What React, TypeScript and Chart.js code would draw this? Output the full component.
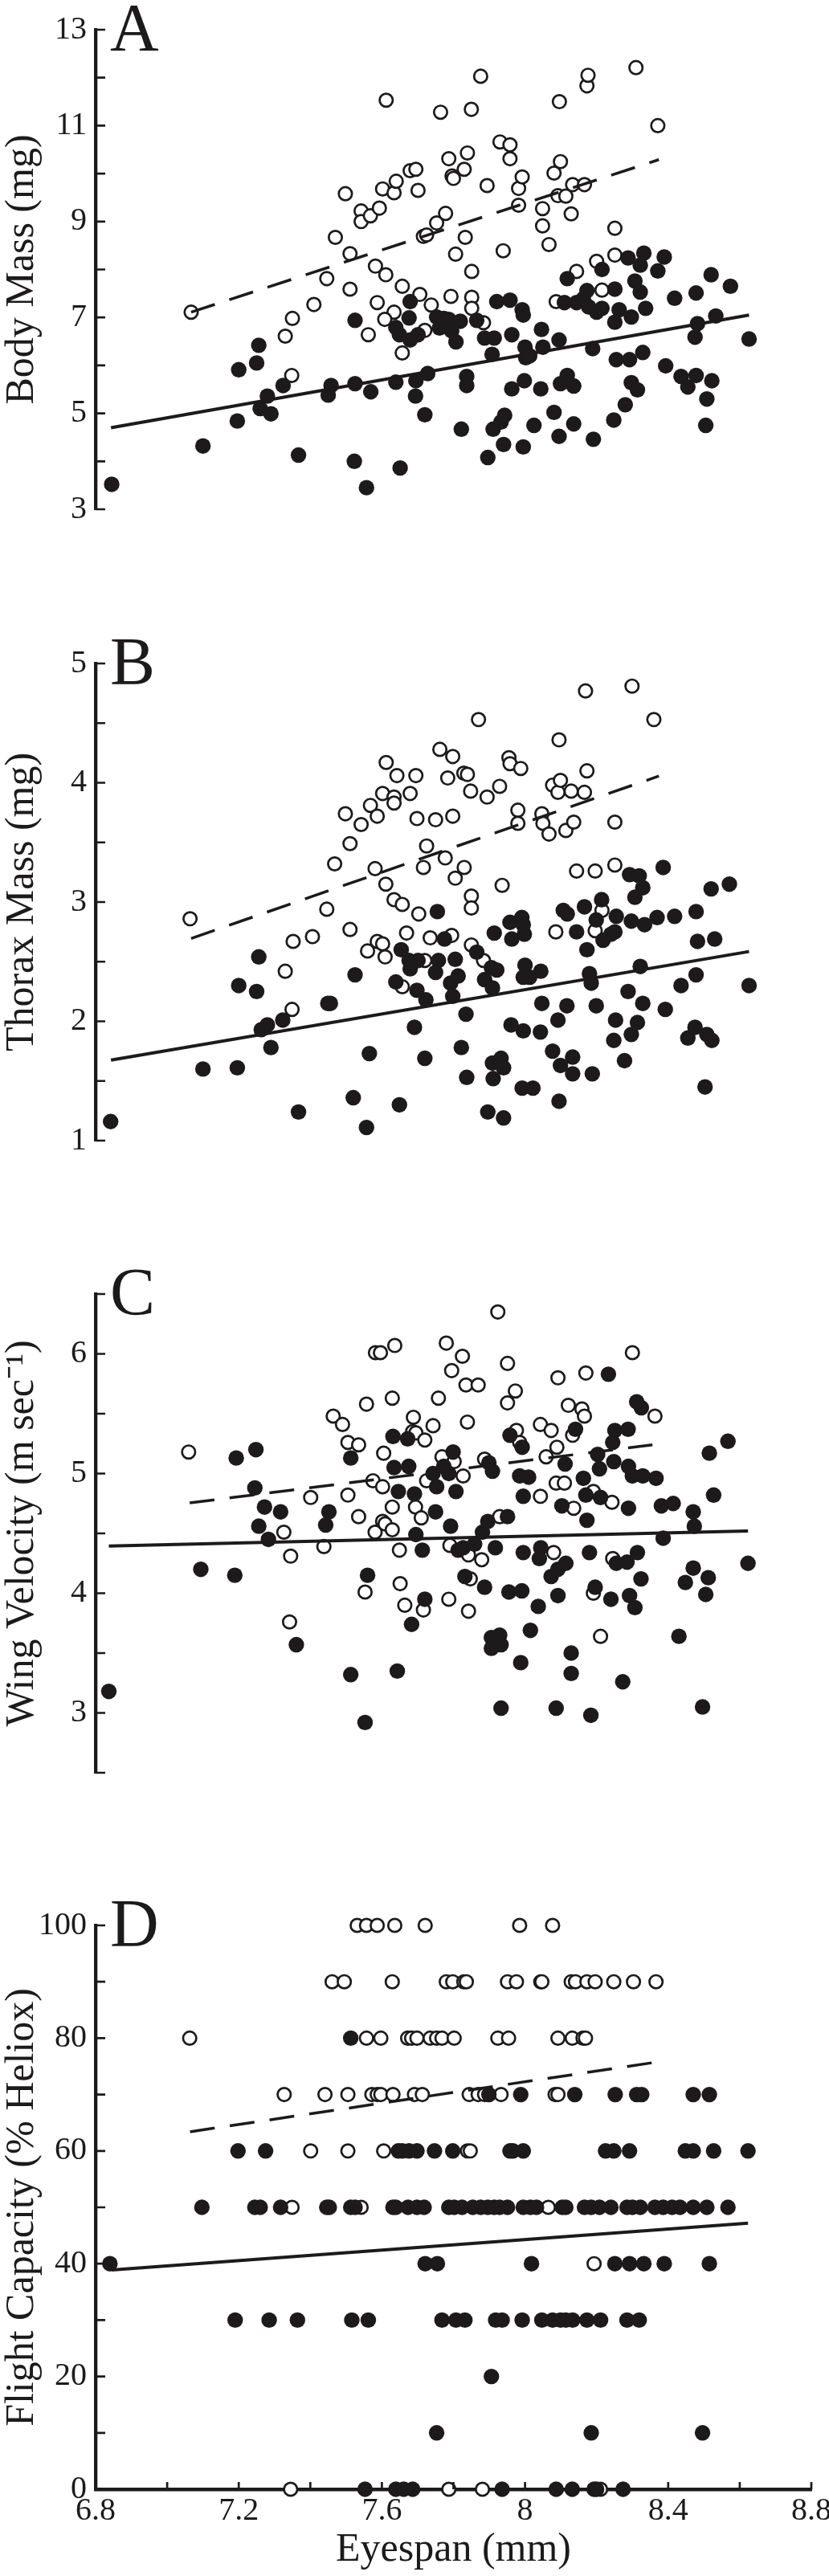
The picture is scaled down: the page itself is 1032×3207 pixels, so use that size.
import React, { useEffect, useRef } from 'react';
import { Chart, registerables } from 'chart.js';

Chart.register(...registerables);

const FONT = "'Liberation Serif', 'Times New Roman', Times, serif";
const INK = '#1c1a1a';

// shared eyespan axis (only drawn under panel D)
const X_TICKS = [6.8, 7, 7.2, 7.4, 7.6, 7.8, 8, 8.2, 8.4, 8.6, 8.8];
const X_LABELS = [6.8, 7.2, 7.6, 8, 8.4, 8.8];

// ---- A: body mass ----
const A_Y_TICKS = [3, 4, 5, 6, 7, 8, 9, 10, 11, 12, 13];
const A_Y_LABELS = [3, 5, 7, 9, 11, 13];
const A_OPEN_X = [
  7.067, 7.33, 7.35, 7.348, 7.41, 7.446, 7.47, 7.498, 7.511, 7.511,
  7.542, 7.542, 7.568, 7.582, 7.593, 7.587, 7.562, 7.602, 7.612, 7.611,
  7.634, 7.64, 7.634, 7.608, 7.657, 7.657, 7.679, 7.695, 7.701, 7.706,
  7.716, 7.725, 7.72, 7.738, 7.753, 7.764, 7.778, 7.787, 7.796, 7.8,
  7.793, 7.806, 7.83, 7.833, 7.839, 7.85, 7.851, 7.851, 7.851, 7.876,
  7.884, 7.894, 7.93, 7.939, 7.958, 7.958, 7.982, 7.992, 7.982, 8.049,
  8.049, 8.067, 8.081, 8.087, 8.092, 8.096, 8.099, 8.114, 8.129, 8.133,
  8.144, 8.166, 8.173, 8.176, 8.2, 8.215, 8.251, 8.251, 8.31, 8.371,
];
const A_OPEN_Y = [
  7.11, 6.61, 6.98, 5.79, 7.27, 7.81, 8.67, 9.58, 8.33, 7.59,
  9.22, 9.0, 9.12, 8.07, 9.28, 7.31, 6.64, 9.68, 11.53, 7.89,
  9.6, 9.84, 7.11, 6.96, 7.65, 6.26, 10.06, 10.09, 9.65, 7.48,
  8.69, 8.72, 6.73, 7.26, 8.97, 11.28, 9.17, 10.31, 9.95, 9.9,
  7.44, 8.32, 10.09, 8.67, 10.43, 11.34, 7.96, 7.42, 7.19, 12.03,
  6.89, 9.75, 10.66, 8.39, 10.6, 10.31, 9.69, 9.93, 9.34, 9.27,
  8.91, 8.52, 10.01, 7.33, 9.54, 11.5, 10.25, 9.53, 9.16, 9.77,
  7.96, 9.77, 11.83, 12.05, 8.17, 7.57, 8.86, 8.3, 12.21, 11.0,
];
const A_FILLED_X = [
  6.845, 7.1, 7.196, 7.2, 7.25, 7.256, 7.26, 7.28, 7.29, 7.324,
  7.367, 7.45, 7.458, 7.523, 7.525, 7.525, 7.569, 7.557, 7.639, 7.651,
  7.639, 7.649, 7.676, 7.679, 7.679, 7.694, 7.695, 7.701, 7.72, 7.728,
  7.753, 7.761, 7.773, 7.787, 7.795, 7.807, 7.819, 7.822, 7.837, 7.837,
  7.865, 7.887, 7.896, 7.908, 7.911, 7.921, 7.914, 7.933, 7.94, 7.943,
  7.958, 7.963, 7.963, 7.992, 7.995, 7.995, 7.998, 8.0, 8.002, 8.013,
  8.025, 8.046, 8.044, 8.05, 8.081, 8.095, 8.095, 8.099, 8.11, 8.118,
  8.118, 8.136, 8.136, 8.144, 8.163, 8.173, 8.178, 8.189, 8.191, 8.2,
  8.215, 8.215, 8.248, 8.251, 8.251, 8.255, 8.263, 8.28, 8.288, 8.292,
  8.297, 8.297, 8.307, 8.314, 8.322, 8.322, 8.329, 8.332, 8.337, 8.371,
  8.389, 8.393, 8.418, 8.436, 8.455, 8.475, 8.478, 8.482, 8.478, 8.505,
  8.508, 8.52, 8.522, 8.533, 8.574, 8.626,
];
const A_FILLED_Y = [
  3.52, 4.32, 4.84, 5.91, 6.05, 6.42, 5.1, 5.36, 4.99, 5.58,
  4.13, 5.38, 5.58, 4.0, 6.94, 5.62, 5.45, 3.45, 5.65, 3.86,
  6.79, 6.64, 6.99, 7.33, 6.53, 5.36, 5.68, 6.64, 4.97, 5.83,
  7.01, 6.78, 6.98, 6.96, 6.72, 6.49, 6.92, 4.67, 5.77, 5.58,
  6.94, 6.57, 4.08, 6.23, 4.67, 7.33, 6.57, 4.82, 4.35, 4.96,
  7.36, 6.64, 5.51, 7.16, 7.05, 4.3, 5.68, 6.38, 6.16, 6.2,
  4.75, 6.75, 5.51, 6.38, 5.02, 6.53, 4.52, 5.62, 7.31, 7.81,
  5.79, 5.57, 4.78, 7.31, 7.39, 7.56, 7.22, 6.35, 4.46, 7.11,
  8.0, 7.19, 4.86, 7.59, 6.9, 6.12, 7.16, 5.18, 8.24, 6.12,
  5.64, 7.01, 7.76, 5.49, 8.09, 7.53, 6.27, 8.34, 7.19, 7.97,
  8.26, 5.99, 7.4, 5.77, 5.55, 6.59, 7.51, 6.87, 5.79, 4.75,
  5.3, 7.89, 5.68, 7.03, 7.65, 6.55,
];
const A_FIT_OPEN_X = [7.067, 8.374];
const A_FIT_OPEN_Y = [7.11, 10.29];
const A_FIT_FILLED_X = [6.843, 8.626];
const A_FIT_FILLED_Y = [4.7, 7.05];

// ---- B: thorax mass ----
const B_Y_TICKS = [1, 1.5, 2, 2.5, 3, 3.5, 4, 4.5, 5];
const B_Y_LABELS = [1, 2, 3, 4, 5];
const B_OPEN_X = [
  7.064, 7.33, 7.349, 7.352, 7.406, 7.446, 7.468, 7.498, 7.511, 7.511,
  7.542, 7.568, 7.56, 7.581, 7.587, 7.587, 7.602, 7.612, 7.602, 7.609,
  7.611, 7.634, 7.634, 7.634, 7.642, 7.657, 7.657, 7.669, 7.679, 7.695,
  7.698, 7.703, 7.716, 7.72, 7.725, 7.735, 7.75, 7.762, 7.777, 7.784,
  7.795, 7.798, 7.798, 7.805, 7.83, 7.829, 7.839, 7.848, 7.85, 7.85,
  7.85, 7.884, 7.894, 7.929, 7.936, 7.955, 7.958, 7.988, 7.98, 7.98,
  8.047, 8.05, 8.067, 8.077, 8.086, 8.095, 8.092, 8.099, 8.114, 8.129,
  8.136, 8.144, 8.166, 8.173, 8.196, 8.196, 8.215, 8.251, 8.251,
  8.169, 8.299, 8.36, 7.87,
];
const B_OPEN_Y = [
  2.86, 2.42, 2.1, 2.67, 2.71, 2.94, 3.32, 3.74, 3.49, 2.77,
  3.65, 3.81, 2.59, 3.28, 3.72, 2.67, 3.91, 4.17, 2.65, 2.54,
  3.15, 3.88, 3.83, 3.02, 4.06, 2.98, 2.29, 2.74, 3.91, 4.06,
  3.7, 2.9, 3.29, 2.51, 3.47, 2.7, 3.69, 4.28, 3.37, 4.04,
  2.72, 4.22, 3.72, 3.2, 3.29, 4.08, 4.07, 3.93, 3.05, 2.95,
  2.64, 2.51, 3.88, 3.97, 3.14, 4.21, 4.16, 4.12, 3.77, 3.66,
  3.74, 3.66, 3.57, 3.98, 2.75, 4.36, 3.92, 4.02, 3.6, 3.93,
  3.67, 3.26, 3.92, 4.1, 3.26, 2.76, 2.93, 3.31, 3.67,
  4.77, 4.81, 4.53, 4.53,
];
const B_FILLED_X = [
  6.842, 7.1, 7.196, 7.2, 7.25, 7.256, 7.263, 7.28, 7.29, 7.323,
  7.367, 7.449, 7.456, 7.52, 7.525, 7.565, 7.557, 7.639, 7.649, 7.654,
  7.676, 7.679, 7.691, 7.698, 7.701, 7.72, 7.723, 7.75, 7.755, 7.758,
  7.775, 7.792, 7.798, 7.805, 7.813, 7.822, 7.835, 7.837, 7.865, 7.887,
  7.896, 7.906, 7.909, 7.909, 7.911, 7.921, 7.914, 7.933, 7.94, 7.94,
  7.958, 7.961, 7.963, 7.991, 7.995, 7.998, 7.995, 8.0, 7.995, 7.992,
  8.013, 8.022, 8.044, 8.043, 8.047, 8.077, 8.092, 8.095, 8.099, 8.107,
  8.118, 8.117, 8.133, 8.133, 8.144, 8.166, 8.173, 8.18, 8.185, 8.188,
  8.199, 8.199, 8.214, 8.218, 8.24, 8.251, 8.248, 8.253, 8.255, 8.278,
  8.288, 8.292, 8.297, 8.297, 8.307, 8.314, 8.319, 8.322, 8.329, 8.329,
  8.334, 8.369, 8.386, 8.392, 8.418, 8.436, 8.455, 8.475, 8.478, 8.478,
  8.482, 8.503, 8.508, 8.52, 8.522, 8.53, 8.571, 8.626,
];
const B_FILLED_Y = [
  1.16, 1.6, 1.61, 2.3, 2.25, 2.54, 1.93, 1.97, 1.78, 2.01,
  1.24, 2.15, 2.15, 1.36, 2.39, 1.73, 1.11, 2.33, 1.3, 2.6,
  2.51, 2.44, 1.95, 2.26, 2.51, 1.69, 2.18, 2.41, 2.92, 2.51,
  2.69, 2.32, 2.21, 2.52, 2.38, 1.78, 2.06, 1.53, 2.58, 2.35,
  1.24, 2.45, 2.28, 1.65, 1.52, 2.43, 2.74, 1.69, 1.61, 1.19,
  2.83, 1.97, 2.69, 2.87, 2.81, 2.73, 1.92, 2.47, 2.37, 1.44,
  2.37, 1.44, 2.42, 1.91, 2.15, 1.75, 2.01, 1.33, 1.63, 2.93,
  2.9, 2.13, 1.7, 1.56, 2.75, 2.96, 2.6, 2.4, 2.32, 1.56,
  2.85, 2.13, 3.02, 2.68, 2.73, 2.75, 1.84, 2.01, 2.88, 1.67,
  2.25, 3.23, 2.84, 1.89, 3.04, 1.99, 3.22, 2.46, 3.12, 2.15,
  2.81, 2.87, 3.29, 2.1, 2.88, 2.3, 1.86, 1.95, 2.92, 2.39,
  2.67, 1.45, 1.89, 3.11, 1.84, 2.69, 3.15, 2.3,
];
const B_FIT_OPEN_X = [7.067, 8.374];
const B_FIT_OPEN_Y = [2.695, 4.056];
const B_FIT_FILLED_X = [6.843, 8.626];
const B_FIT_FILLED_Y = [1.675, 2.585];

// ---- C: wing velocity ----
const C_Y_TICKS = [2.5, 3, 3.5, 4, 4.5, 5, 5.5, 6, 6.5];
const C_Y_LABELS = [3, 4, 5, 6];
const C_OPEN_X = [
  7.06, 7.326, 7.345, 7.342, 7.401, 7.438, 7.464, 7.49, 7.505, 7.505,
  7.535, 7.535, 7.557, 7.553, 7.575, 7.581, 7.582, 7.596, 7.602, 7.605,
  7.602, 7.609, 7.629, 7.629, 7.629, 7.636, 7.649, 7.651, 7.664, 7.688,
  7.686, 7.695, 7.694, 7.71, 7.716, 7.72, 7.725, 7.743, 7.758, 7.768,
  7.78, 7.787, 7.79, 7.795, 7.802, 7.825, 7.827, 7.835, 7.839, 7.842,
  7.847, 7.842, 7.869, 7.879, 7.887, 7.924, 7.929, 7.951, 7.951, 7.973,
  7.976, 7.985, 8.043, 8.043, 8.059, 8.073, 8.08, 8.087, 8.089, 8.092,
  8.11, 8.121, 8.133, 8.136, 8.159, 8.166, 8.17, 8.191, 8.191, 8.211,
  8.243, 8.245, 8.3, 8.363,
];
const C_OPEN_Y = [
  5.18, 4.51, 4.31, 3.76, 4.8, 4.39, 5.48, 5.41, 5.26, 4.82,
  5.24, 4.64, 5.58, 4.01, 4.94, 4.51, 6.01, 6.01, 4.89, 5.17,
  4.6, 4.58, 5.63, 4.53, 4.72, 6.07, 4.36, 4.08, 3.9, 5.47,
  5.35, 5.34, 4.72, 4.63, 3.86, 5.28, 4.94, 5.4, 5.63, 5.14,
  6.09, 3.95, 4.4, 5.86, 5.1, 5.98, 4.98, 5.74, 5.43, 4.32,
  4.12, 3.85, 5.74, 4.28, 5.12, 6.35, 4.64, 5.92, 5.59, 5.69,
  5.36, 5.26, 5.41, 4.81, 5.14, 5.36, 4.34, 4.92, 5.22, 5.8,
  4.92, 5.57, 5.32, 4.71, 5.54, 5.48, 5.84, 4.85, 4.0, 3.64,
  4.76, 4.29, 6.01, 5.48,
];
const C_FILLED_X = [
  6.837, 7.094, 7.189, 7.193, 7.245, 7.248, 7.256, 7.272, 7.283, 7.317,
  7.361, 7.443, 7.452, 7.513, 7.513, 7.553, 7.56, 7.631, 7.634, 7.646,
  7.643, 7.672, 7.675, 7.683, 7.691, 7.695, 7.713, 7.72, 7.743, 7.75,
  7.753, 7.773, 7.787, 7.792, 7.799, 7.807, 7.813, 7.827, 7.832, 7.859,
  7.881, 7.887, 7.896, 7.899, 7.909, 7.906, 7.906, 7.917, 7.929, 7.933,
  7.933, 7.951, 7.955, 7.958, 7.985, 7.992, 7.991, 7.988, 7.995, 7.995,
  8.01, 8.015, 8.037, 8.04, 8.044, 8.073, 8.087, 8.092, 8.092, 8.103,
  8.112, 8.114, 8.129, 8.129, 8.141, 8.163, 8.17, 8.173, 8.18, 8.184,
  8.203, 8.196, 8.208, 8.211, 8.233, 8.24, 8.245, 8.248, 8.251, 8.255,
  8.273, 8.285, 8.288, 8.289, 8.289, 8.292, 8.3, 8.307, 8.312, 8.314,
  8.325, 8.324, 8.329, 8.366, 8.381, 8.386, 8.414, 8.43, 8.448, 8.47,
  8.473, 8.47, 8.496, 8.505, 8.512, 8.515, 8.527, 8.567, 8.623,
];
const C_FILLED_Y = [
  3.18, 4.2, 4.15, 5.13, 4.88, 5.2, 4.56, 4.72, 4.45, 4.68,
  3.57, 4.57, 4.68, 5.13, 3.32, 2.92, 4.15, 5.31, 5.05, 4.85,
  3.35, 5.29, 5.06, 3.74, 4.83, 4.49, 4.36, 3.95, 5.0, 4.68,
  4.89, 5.06, 5.0, 4.56, 5.18, 4.85, 4.36, 4.38, 4.14, 4.41,
  4.51, 4.05, 4.6, 5.09, 5.02, 3.63, 3.54, 4.38, 3.65, 3.57,
  3.04, 4.64, 4.01, 5.32, 4.98, 5.22, 4.02, 3.42, 4.81, 4.34,
  4.97, 3.69, 3.89, 4.29, 4.38, 4.14, 3.04, 3.98, 4.2, 4.73,
  5.08, 4.25, 3.5, 3.33, 5.37, 4.96, 4.82, 4.61, 4.34, 2.98,
  5.16, 4.05, 5.04, 4.8, 5.83, 3.95, 5.26, 5.1, 5.36, 4.25,
  3.26, 4.26, 5.37, 5.06, 4.71, 3.98, 4.98, 3.88, 5.6, 4.34,
  5.55, 4.12, 4.98, 4.96, 4.73, 4.46, 4.75, 3.64, 4.09, 4.68,
  4.56, 4.21, 3.05, 3.99, 4.13, 5.17, 4.82, 5.27, 4.25,
];
const C_FIT_OPEN_X = [7.063, 8.356];
const C_FIT_OPEN_Y = [4.755, 5.24];
const C_FIT_FILLED_X = [6.837, 8.623];
const C_FIT_FILLED_Y = [4.395, 4.52];

// ---- D: flight capacity (scored in steps of 10 %) ----
const D_Y_TICKS = [0, 10, 20, 30, 40, 50, 60, 70, 80, 90, 100];
const D_Y_LABELS = [0, 20, 40, 60, 80, 100];
const D_LEVELS = [100, 90, 80, 70, 60, 50, 40, 30, 20, 10, 0];
const D_OPEN_X_BY_LEVEL = [
  [7.531, 7.557, 7.587, 7.636, 7.721, 7.985, 8.077],
  [7.461, 7.495, 7.629, 7.78, 7.798, 7.829, 7.836, 7.951, 7.976, 8.044, 8.047, 8.129, 8.141, 8.173, 8.196, 8.248, 8.303, 8.366],
  [7.063, 7.557, 7.597, 7.672, 7.683, 7.698, 7.735, 7.753, 7.768, 7.802, 7.924, 7.954, 8.092, 8.132, 8.162, 8.169],
  [7.327, 7.441, 7.505, 7.572, 7.587, 7.597, 7.631, 7.691, 7.713, 7.844, 7.869, 7.887, 7.933, 8.084, 8.092],
  [7.401, 7.505, 7.605, 7.839, 7.847],
  [7.349, 7.542, 8.065],
  [8.193],
  [],
  [],
  [],
  [7.345, 7.787, 7.881, 8.211],
];
const D_FILLED_X_BY_LEVEL = [
  [],
  [],
  [7.513],
  [7.899, 7.988, 8.139, 8.252, 8.312, 8.326, 8.47, 8.515],
  [7.198, 7.275, 7.646, 7.657, 7.676, 7.698, 7.747, 7.798, 7.958, 7.966, 7.995, 8.225, 8.248, 8.292, 8.448, 8.47, 8.527, 8.623],
  [7.097, 7.245, 7.26, 7.317, 7.446, 7.453, 7.513, 7.525, 7.631, 7.639, 7.673, 7.698, 7.718, 7.787, 7.802, 7.824, 7.854, 7.876, 7.896, 7.914, 7.929, 7.951, 7.995, 8.015, 8.032, 8.104, 8.114, 8.166, 8.185, 8.208, 8.24, 8.285, 8.3, 8.322, 8.363, 8.386, 8.411, 8.433, 8.47, 8.508, 8.567],
  [6.84, 7.721, 7.755, 8.018, 8.251, 8.292, 8.332, 8.389, 8.515],
  [7.19, 7.285, 7.364, 7.516, 7.562, 7.768, 7.807, 7.832, 7.918, 7.936, 7.992, 8.047, 8.077, 8.099, 8.114, 8.133, 8.173, 8.211, 8.285, 8.319],
  [7.906],
  [7.753, 8.185, 8.496],
  [7.553, 7.639, 7.661, 7.686, 7.936, 8.087, 8.132, 8.193, 8.2, 8.274],
];
const D_FIT_OPEN_X = [7.064, 8.362];
const D_FIT_OPEN_Y = [63.4, 75.7];
const D_FIT_FILLED_X = [6.845, 8.623];
const D_FIT_FILLED_Y = [38.9, 47.2];

type Pt = { x: number; y: number };

const zip = (xs: number[], ys: number[]): Pt[] => xs.map((x, i) => ({ x, y: ys[i] }));
const byLevel = (rows: number[][]): Pt[] =>
  rows.flatMap((xs, i) => xs.map((x) => ({ x, y: D_LEVELS[i] })));

type PanelSpec = {
  letter: string;
  title: string;
  top: number;
  height: number;
  padTop: number;
  padBottom: number;
  yTicks: number[];
  yLabels: number[];
  open: Pt[];
  filled: Pt[];
  openFit: Pt[];
  filledFit: Pt[];
  showX: boolean;
};

const PANELS: PanelSpec[] = [
  {
    letter: 'A', title: 'Body Mass (mg)', top: 0, height: 790, padTop: 37, padBottom: 48,
    yTicks: A_Y_TICKS, yLabels: A_Y_LABELS,
    open: zip(A_OPEN_X, A_OPEN_Y), filled: zip(A_FILLED_X, A_FILLED_Y),
    openFit: zip(A_FIT_OPEN_X, A_FIT_OPEN_Y), filledFit: zip(A_FIT_FILLED_X, A_FIT_FILLED_Y),
    showX: false,
  },
  {
    letter: 'B', title: 'Thorax Mass (mg)', top: 790, height: 790, padTop: 36, padBottom: 52,
    yTicks: B_Y_TICKS, yLabels: B_Y_LABELS,
    open: zip(B_OPEN_X, B_OPEN_Y), filled: zip(B_FILLED_X, B_FILLED_Y),
    openFit: zip(B_FIT_OPEN_X, B_FIT_OPEN_Y), filledFit: zip(B_FIT_FILLED_X, B_FIT_FILLED_Y),
    showX: false,
  },
  {
    letter: 'C', title: 'Wing Velocity (m sec\u207B\u00B9)', top: 1580, height: 790, padTop: 31, padBottom: 55,
    yTicks: C_Y_TICKS, yLabels: C_Y_LABELS,
    open: zip(C_OPEN_X, C_OPEN_Y), filled: zip(C_FILLED_X, C_FILLED_Y),
    openFit: zip(C_FIT_OPEN_X, C_FIT_OPEN_Y), filledFit: zip(C_FIT_FILLED_X, C_FIT_FILLED_Y),
    showX: false,
  },
  {
    letter: 'D', title: 'Flight Capacity (% Heliox)', top: 2360, height: 847, padTop: 37, padBottom: 0,
    yTicks: D_Y_TICKS, yLabels: D_Y_LABELS,
    open: byLevel(D_OPEN_X_BY_LEVEL), filled: byLevel(D_FILLED_X_BY_LEVEL),
    openFit: zip(D_FIT_OPEN_X, D_FIT_OPEN_Y), filledFit: zip(D_FIT_FILLED_X, D_FIT_FILLED_Y),
    showX: true,
  },
];

// inward tick marks + big panel letter
const makeOverlay = (letter: string, showX: boolean) => ({
  id: 'overlay',
  afterDraw(chart: any) {
    const { ctx, chartArea } = chart;
    const ys = chart.scales.y;
    const xs = chart.scales.x;
    ctx.save();
    ctx.strokeStyle = INK;
    ctx.lineWidth = 2.7;
    ctx.beginPath();
    ys.ticks.forEach((t: any) => {
      const py = ys.getPixelForValue(t.value);
      ctx.moveTo(chartArea.left, py);
      ctx.lineTo(chartArea.left + 12, py);
    });
    if (showX) {
      xs.ticks.forEach((t: any) => {
        const px = xs.getPixelForValue(t.value);
        ctx.moveTo(px, chartArea.bottom);
        ctx.lineTo(px, chartArea.bottom - 9);
      });
    }
    ctx.stroke();
    ctx.fillStyle = INK;
    ctx.font = `84px ${FONT}`;
    ctx.textAlign = 'left';
    ctx.textBaseline = 'alphabetic';
    ctx.fillText(letter, chartArea.left + 18, chartArea.top + 26);
    ctx.restore();
  },
});

const Panel: React.FC<{ spec: PanelSpec }> = ({ spec }) => {
  const canvasRef = useRef<HTMLCanvasElement>(null);

  useEffect(() => {
    if (!canvasRef.current) return;
    const chart = new Chart(canvasRef.current, {
      type: 'scatter',
      data: {
        datasets: [
          {
            data: spec.filledFit,
            showLine: true,
            pointRadius: 0,
            borderColor: INK,
            borderWidth: 4,
            order: 0,
          },
          {
            data: spec.openFit,
            showLine: true,
            pointRadius: 0,
            borderColor: INK,
            borderWidth: 3.5,
            borderDash: [31, 19],
            order: 0,
          },
          {
            data: spec.filled,
            pointRadius: 9.7,
            pointBackgroundColor: INK,
            pointBorderWidth: 0,
            order: 1,
            clip: false,
          },
          {
            data: spec.open,
            pointRadius: 8.2,
            pointBackgroundColor: '#ffffff',
            pointBorderColor: INK,
            pointBorderWidth: 2.7,
            order: 2,
            clip: false,
          },
        ],
      } as any,
      options: {
        animation: false,
        responsive: false,
        events: [],
        layout: { padding: { top: spec.padTop, bottom: spec.padBottom, left: 0, right: 22 } },
        plugins: { legend: { display: false }, tooltip: { enabled: false } },
        scales: {
          x: {
            type: 'linear',
            min: 6.8,
            max: 8.8,
            display: spec.showX,
            grid: { display: false, drawTicks: false },
            border: { display: true, color: INK, width: 4.5 },
            afterBuildTicks: (s: any) => {
              s.ticks = X_TICKS.map((value) => ({ value }));
            },
            afterFit: (s: any) => {
              s.height = 108;
              s.paddingLeft = 0;
              s.paddingRight = 0;
            },
            ticks: {
              autoSkip: false,
              maxRotation: 0,
              padding: 3,
              color: INK,
              font: { family: FONT, size: 40 },
              callback: (v: any) => (X_LABELS.includes(Number(v)) ? String(v) : ''),
            },
            title: {
              display: true,
              text: 'Eyespan (mm)',
              color: INK,
              font: { family: FONT, size: 50, lineHeight: 1 },
              padding: { top: 0, bottom: 7 },
            },
          },
          y: {
            type: 'linear',
            min: spec.yTicks[0],
            max: spec.yTicks[spec.yTicks.length - 1],
            grid: { display: false, drawTicks: false },
            border: { display: true, color: INK, width: 4.3 },
            afterBuildTicks: (s: any) => {
              s.ticks = spec.yTicks.map((value) => ({ value }));
            },
            afterFit: (s: any) => {
              s.width = 119;
              s.paddingTop = 0;
              s.paddingBottom = 0;
            },
            ticks: {
              autoSkip: false,
              padding: 11,
              color: INK,
              font: { family: FONT, size: 40 },
              callback: (v: any) => (spec.yLabels.includes(Number(v)) ? String(v) : ''),
            },
            title: {
              display: true,
              text: spec.title,
              color: INK,
              font: { family: FONT, size: 50, lineHeight: 1 },
              padding: { top: 3, bottom: 0 },
            },
          },
        },
      } as any,
      plugins: [makeOverlay(spec.letter, spec.showX)],
    });
    return () => chart.destroy();
  }, [spec]);

  return (
    <canvas
      ref={canvasRef}
      width={1032}
      height={spec.height}
      style={{ position: 'absolute', left: 0, top: spec.top, width: 1032, height: spec.height }}
    />
  );
};

const App: React.FC = () => (
  <div style={{ position: 'absolute', left: 0, top: 0, width: 1032, height: 3207, background: '#ffffff' }}>
    {PANELS.map((p) => (
      <Panel key={p.letter} spec={p} />
    ))}
  </div>
);

export default App;
